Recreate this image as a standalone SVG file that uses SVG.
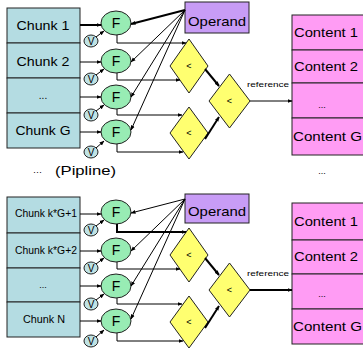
<svg xmlns="http://www.w3.org/2000/svg" width="363" height="352" viewBox="0 0 363 352">
<style>
.chunk{fill:#b4dce2;stroke:#222;stroke-width:1}
.f{fill:#98ecb4;stroke:#222;stroke-width:1}
.v{fill:#bfe2e4;stroke:#222;stroke-width:1}
.dia{fill:#ffff70;stroke:#222;stroke-width:1}
.op{fill:#c89cf6;stroke:#222;stroke-width:1}
.ct{fill:#ff9cf4;stroke:#222;stroke-width:1}
.t{font-family:"Liberation Sans",Arial,sans-serif;fill:#000}
.ln{fill:none;stroke:#000;stroke-width:1}
.th{fill:none;stroke:#000;stroke-width:2}
</style>
<defs>
<marker id="ah" viewBox="0 0 10 10" refX="9" refY="5" markerWidth="5" markerHeight="5" orient="auto" markerUnits="userSpaceOnUse">
<path d="M0,1 L10,5 L0,9 z" fill="#000"/>
</marker>
</defs>
<rect width="363" height="352" fill="#fff"/>

<g id="half-top">
<g id="chunks-top">
<rect class="chunk" x="7" y="8" width="73" height="35"/>
<rect class="chunk" x="7" y="43" width="73" height="35"/>
<rect class="chunk" x="7" y="78" width="73" height="35"/>
<rect class="chunk" x="7" y="113" width="73" height="35"/>
<text class="t" x="43" y="30" font-size="13" text-anchor="middle" textLength="53" lengthAdjust="spacingAndGlyphs">Chunk 1</text>
<text class="t" x="43" y="66" font-size="13" text-anchor="middle" textLength="53" lengthAdjust="spacingAndGlyphs">Chunk 2</text>
<text class="t" x="43" y="99" font-size="10" text-anchor="middle">...</text>
<text class="t" x="43" y="135" font-size="13" text-anchor="middle" textLength="55" lengthAdjust="spacingAndGlyphs">Chunk G</text>
</g>
<g id="f1-top"><ellipse class="f" cx="116" cy="23" rx="15" ry="12"/><text class="t" x="116" y="28" font-size="14" text-anchor="middle">F</text></g>
<g id="f2-top"><ellipse class="f" cx="116" cy="61" rx="15" ry="12"/><text class="t" x="116" y="66" font-size="14" text-anchor="middle">F</text></g>
<g id="f3-top"><ellipse class="f" cx="116" cy="97" rx="15" ry="12"/><text class="t" x="116" y="102" font-size="14" text-anchor="middle">F</text></g>
<g id="f4-top"><ellipse class="f" cx="116" cy="132" rx="15" ry="12"/><text class="t" x="116" y="137" font-size="14" text-anchor="middle">F</text></g>
<g id="v1-top"><ellipse class="v" cx="91" cy="41" rx="7" ry="6"/><text class="t" x="91" y="45" font-size="10" text-anchor="middle">V</text></g>
<g id="v2-top"><ellipse class="v" cx="91" cy="79" rx="7" ry="6"/><text class="t" x="91" y="83" font-size="10" text-anchor="middle">V</text></g>
<g id="v3-top"><ellipse class="v" cx="91" cy="115" rx="7" ry="6"/><text class="t" x="91" y="119" font-size="10" text-anchor="middle">V</text></g>
<g id="v4-top"><ellipse class="v" cx="91" cy="152" rx="7" ry="6"/><text class="t" x="91" y="156" font-size="10" text-anchor="middle">V</text></g>
<g id="operand-top"><rect class="op" x="185" y="2" width="64" height="31"/><text class="t" x="188" y="26" font-size="13" textLength="58" lengthAdjust="spacingAndGlyphs">Operand</text></g>
<g id="cmp1-top"><path class="dia" d="M189,39 L208,66 L189,93 L170,66 z"/><text class="t" x="189" y="69" font-size="9" text-anchor="middle">&lt;</text></g>
<g id="cmp2-top"><path class="dia" d="M189,107 L208,133 L189,159 L170,133 z"/><text class="t" x="189" y="136" font-size="9" text-anchor="middle">&lt;</text></g>
<g id="cmp3-top"><path class="dia" d="M229.5,74 L250,101 L229.5,128 L209,101 z"/><text class="t" x="229.5" y="104" font-size="9" text-anchor="middle">&lt;</text></g>
<g id="content-top">
<rect class="ct" x="292" y="15" width="80" height="35"/>
<rect class="ct" x="292" y="50" width="80" height="33"/>
<rect class="ct" x="292" y="83" width="80" height="35"/>
<rect class="ct" x="292" y="118" width="80" height="37"/>
<text class="t" x="294" y="37" font-size="13" textLength="64" lengthAdjust="spacingAndGlyphs">Content 1</text>
<text class="t" x="294" y="71" font-size="13" textLength="64" lengthAdjust="spacingAndGlyphs">Content 2</text>
<text class="t" x="322" y="108" font-size="9" text-anchor="middle">...</text>
<text class="t" x="293" y="141" font-size="13" textLength="69" lengthAdjust="spacingAndGlyphs">Content G</text>
</g>
<g id="connectors-top">
<line class="th" x1="80" y1="25" x2="101" y2="25" marker-end="url(#ah)"/>
<line class="ln" x1="80" y1="62" x2="101" y2="62" marker-end="url(#ah)"/>
<line class="ln" x1="80" y1="97" x2="101" y2="97" marker-end="url(#ah)"/>
<line class="ln" x1="80" y1="132" x2="101" y2="132" marker-end="url(#ah)"/>
<line class="ln" x1="96" y1="37" x2="104" y2="31" marker-end="url(#ah)"/>
<line class="ln" x1="96" y1="75" x2="104" y2="69" marker-end="url(#ah)"/>
<line class="ln" x1="96" y1="111" x2="104" y2="105" marker-end="url(#ah)"/>
<line class="ln" x1="96" y1="148" x2="104" y2="141" marker-end="url(#ah)"/>
<line class="th" x1="185" y1="10" x2="131" y2="24" marker-end="url(#ah)"/>
<line class="ln" x1="185" y1="10" x2="131" y2="62" marker-end="url(#ah)"/>
<line class="ln" x1="185" y1="10" x2="131" y2="97" marker-end="url(#ah)"/>
<line class="ln" x1="185" y1="10" x2="131" y2="130" marker-end="url(#ah)"/>
<polyline class="ln" points="117,35 117,43 186,43" marker-end="url(#ah)"/>
<polyline class="ln" points="117,73 117,80 180,80" marker-end="url(#ah)"/>
<polyline class="ln" points="117,109 117,115 182,115" marker-end="url(#ah)"/>
<polyline class="ln" points="117,144 117,152 183,152" marker-end="url(#ah)"/>
<line class="th" x1="205" y1="69" x2="219" y2="86" marker-end="url(#ah)"/>
<line class="th" x1="205" y1="139" x2="219" y2="117" marker-end="url(#ah)"/>
<line class="ln" x1="250" y1="101" x2="292" y2="101" marker-end="url(#ah)"/>
<text class="t" x="268" y="87" font-size="8" text-anchor="middle" textLength="42" lengthAdjust="spacingAndGlyphs">reference</text>
</g>
</g>

<g id="pipeline-note">
<text class="t" x="33" y="175" font-size="9">···</text>
<text class="t" x="55" y="175" font-size="13" textLength="61" lengthAdjust="spacingAndGlyphs">(Pipline)</text>
<text class="t" x="322" y="174" font-size="9" text-anchor="middle">...</text>
</g>

<g id="half-bottom" transform="translate(0,189)">
<g id="chunks-bottom">
<rect class="chunk" x="7" y="8" width="73" height="36"/>
<rect class="chunk" x="7" y="44" width="73" height="35"/>
<rect class="chunk" x="7" y="79" width="73" height="34"/>
<rect class="chunk" x="7" y="113" width="73" height="35"/>
<text class="t" x="46" y="28" font-size="10" text-anchor="middle" textLength="62" lengthAdjust="spacingAndGlyphs">Chunk k*G+1</text>
<text class="t" x="46" y="65" font-size="10" text-anchor="middle" textLength="62" lengthAdjust="spacingAndGlyphs">Chunk k*G+2</text>
<text class="t" x="43" y="99" font-size="9" text-anchor="middle">...</text>
<text class="t" x="44" y="134" font-size="10" text-anchor="middle" textLength="42" lengthAdjust="spacingAndGlyphs">Chunk N</text>
</g>
<g id="f1-bottom"><ellipse class="f" cx="116" cy="23" rx="15" ry="12"/><text class="t" x="116" y="28" font-size="14" text-anchor="middle">F</text></g>
<g id="f2-bottom"><ellipse class="f" cx="116" cy="61" rx="15" ry="12"/><text class="t" x="116" y="66" font-size="14" text-anchor="middle">F</text></g>
<g id="f3-bottom"><ellipse class="f" cx="116" cy="97" rx="15" ry="12"/><text class="t" x="116" y="102" font-size="14" text-anchor="middle">F</text></g>
<g id="f4-bottom"><ellipse class="f" cx="116" cy="132" rx="15" ry="12"/><text class="t" x="116" y="137" font-size="14" text-anchor="middle">F</text></g>
<g id="v1-bottom"><ellipse class="v" cx="91" cy="41" rx="7" ry="6"/><text class="t" x="91" y="45" font-size="10" text-anchor="middle">V</text></g>
<g id="v2-bottom"><ellipse class="v" cx="91" cy="79" rx="7" ry="6"/><text class="t" x="91" y="83" font-size="10" text-anchor="middle">V</text></g>
<g id="v3-bottom"><ellipse class="v" cx="91" cy="115" rx="7" ry="6"/><text class="t" x="91" y="119" font-size="10" text-anchor="middle">V</text></g>
<g id="v4-bottom"><ellipse class="v" cx="91" cy="152" rx="7" ry="6"/><text class="t" x="91" y="156" font-size="10" text-anchor="middle">V</text></g>
<g id="operand-bottom"><rect class="op" x="185" y="5" width="64" height="29"/><text class="t" x="188" y="27" font-size="13" textLength="58" lengthAdjust="spacingAndGlyphs">Operand</text></g>
<g id="cmp1-bottom"><path class="dia" d="M189,39 L208,66 L189,93 L170,66 z"/><text class="t" x="189" y="69" font-size="9" text-anchor="middle">&lt;</text></g>
<g id="cmp2-bottom"><path class="dia" d="M189,107 L208,133 L189,159 L170,133 z"/><text class="t" x="189" y="136" font-size="9" text-anchor="middle">&lt;</text></g>
<g id="cmp3-bottom"><path class="dia" d="M229.5,74 L250,101 L229.5,128 L209,101 z"/><text class="t" x="229.5" y="104" font-size="9" text-anchor="middle">&lt;</text></g>
<g id="content-bottom">
<rect class="ct" x="292" y="14" width="80" height="37"/>
<rect class="ct" x="292" y="51" width="80" height="34"/>
<rect class="ct" x="292" y="85" width="80" height="35"/>
<rect class="ct" x="292" y="120" width="80" height="35"/>
<text class="t" x="294" y="37" font-size="13" textLength="64" lengthAdjust="spacingAndGlyphs">Content 1</text>
<text class="t" x="294" y="72" font-size="13" textLength="64" lengthAdjust="spacingAndGlyphs">Content 2</text>
<text class="t" x="322" y="108" font-size="9" text-anchor="middle">...</text>
<text class="t" x="293" y="142" font-size="13" textLength="69" lengthAdjust="spacingAndGlyphs">Content G</text>
</g>
<g id="connectors-bottom">
<line class="ln" x1="80" y1="25" x2="101" y2="25" marker-end="url(#ah)"/>
<line class="ln" x1="80" y1="62" x2="101" y2="62" marker-end="url(#ah)"/>
<line class="ln" x1="80" y1="97" x2="101" y2="97" marker-end="url(#ah)"/>
<line class="ln" x1="80" y1="132" x2="101" y2="132" marker-end="url(#ah)"/>
<line class="ln" x1="96" y1="37" x2="104" y2="31" marker-end="url(#ah)"/>
<line class="ln" x1="96" y1="75" x2="104" y2="69" marker-end="url(#ah)"/>
<line class="ln" x1="96" y1="111" x2="104" y2="105" marker-end="url(#ah)"/>
<line class="ln" x1="96" y1="148" x2="104" y2="141" marker-end="url(#ah)"/>
<line class="ln" x1="185" y1="10" x2="131" y2="24" marker-end="url(#ah)"/>
<line class="ln" x1="185" y1="10" x2="131" y2="62" marker-end="url(#ah)"/>
<line class="ln" x1="185" y1="10" x2="131" y2="97" marker-end="url(#ah)"/>
<line class="ln" x1="185" y1="10" x2="131" y2="130" marker-end="url(#ah)"/>
<polyline class="th" points="117,35 117,43 186,43" marker-end="url(#ah)"/>
<polyline class="ln" points="117,73 117,80 180,80" marker-end="url(#ah)"/>
<polyline class="ln" points="117,109 117,115 182,115" marker-end="url(#ah)"/>
<polyline class="ln" points="117,144 117,152 183,152" marker-end="url(#ah)"/>
<line class="th" x1="205" y1="69" x2="219" y2="86" marker-end="url(#ah)"/>
<line class="th" x1="205" y1="139" x2="219" y2="117" marker-end="url(#ah)"/>
<line class="th" x1="250" y1="101" x2="292" y2="101" marker-end="url(#ah)"/>
<text class="t" x="268" y="87" font-size="8" text-anchor="middle" textLength="42" lengthAdjust="spacingAndGlyphs">reference</text>
</g>
</g>
</svg>
